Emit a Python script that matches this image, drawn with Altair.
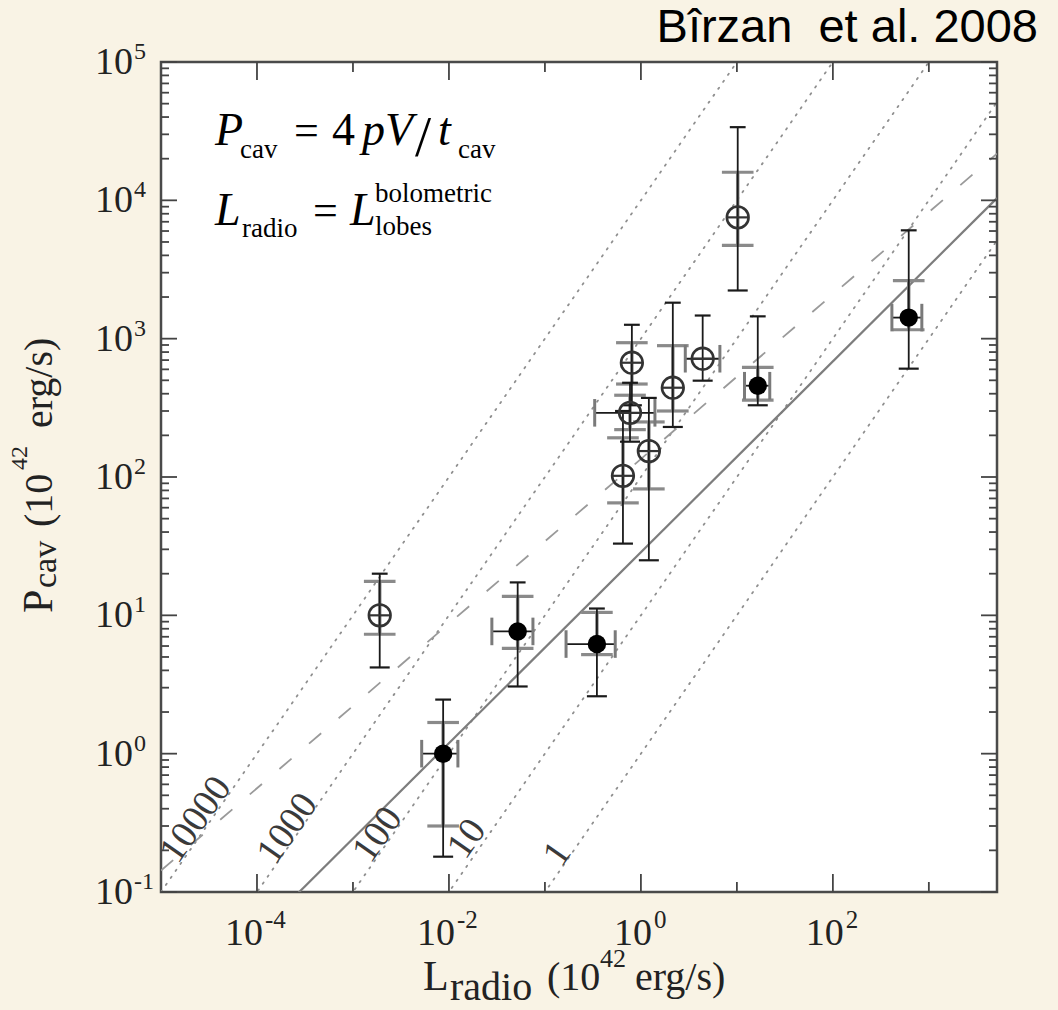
import math
import pandas as pd
import altair as alt

# ---------------------------------------------------------------
# Cavity power vs. radio luminosity (log-log)
# ---------------------------------------------------------------
X_MIN, X_MAX = 1e-5, 10 ** 3.71
Y_MIN, Y_MAX = 1e-1, 1e5
W, H = 836, 830

SERIF = "Liberation Serif, Times New Roman, serif"
SANS = "Liberation Sans, Arial, Helvetica, sans-serif"

# filled symbols
fill_L = [0.0087, 0.052, 0.348, 16.5, 617]
fill_P = [1.0, 7.65, 6.2, 457, 1420]
fill_P_lo = [0.18, 3.06, 2.6, 330, 607]        # black bars
fill_P_hi = [2.46, 17.3, 11.2, 1450, 6070]
fill_P_lo2 = [0.30, 5.77, 5.2, 360, 1160]      # grey bars
fill_P_hi2 = [1.68, 13.7, 10.5, 620, 2630]
fill_L_lo = [0.0052, 0.028, 0.166, 12.0, 412]
fill_L_hi = [0.0124, 0.075, 0.54, 22.0, 845]

# open symbols
open_L = [0.0019, 0.65, 0.77, 0.805, 1.21, 2.15, 4.4, 10.2]
open_P = [10.0, 102, 291, 670, 154, 442, 716, 7530]
open_P_lo = [4.2, 33, 180, 330, 25, 230, 497, 2230]
open_P_hi = [20, 300, 480, 1260, 373, 1820, 1470, 33800]
open_P_lo2 = [7.3, 65, 220, 470, 82, 300, None, 4720]
open_P_hi2 = [17.6, 192, 390, 935, 250, 890, None, 15960]
open_L_lo = [None, None, 0.33, None, None, None, 2.9, None]
open_L_hi = [None, None, 1.4, None, None, None, 6.65, None]

# constant P_cav / L_radio ratios (dotted) and their labels
ratios = [1, 10, 100, 1000, 10000]
ratio_text = ["1", "10", "100", "1000", "10000"]
ratio_label_L = [0.136, 1.55e-2, 1.82e-3, 2.10e-4, 2.32e-5]
ratio_label_P = [0.188, 0.242, 0.259, 0.286, 0.333]

# power-law fits: log P = a + b log L
solid_fit = (1.456, 0.69)
dashed_fit = (2.13, 0.595)

# axis decorations
x_tick_exp = [-4, -3, -2, -1, 0, 1, 2, 3]
x_label_exp = [-4, -2, 0, 2]
y_tick_exp = [-1, 0, 1, 2, 3, 4, 5]

xs = alt.Scale(type="log", domain=[X_MIN, X_MAX], nice=False, zero=False)
ys = alt.Scale(type="log", domain=[Y_MIN, Y_MAX], nice=False, zero=False)


def X(f):
    return alt.X(f, type="quantitative", scale=xs, axis=None)


def Y(f):
    return alt.Y(f, type="quantitative", scale=ys, axis=None)


# ---------------- reference lines ----------------
ratio_df = pd.DataFrame(
    [{"k": k, "L": L, "P": k * L} for k in ratios for L in (X_MIN, X_MAX)]
)
dotted = alt.Chart(ratio_df).mark_line(
    strokeDash=[1.5, 7], strokeCap="round", color="#8f8f8f", strokeWidth=1.8, clip=True
).encode(x=X("L"), y=Y("P"), detail="k:N")


def fit_df(a, b):
    return pd.DataFrame(
        [{"L": L, "P": 10 ** (a + b * math.log10(L))} for L in (X_MIN, X_MAX)]
    )


dashed = alt.Chart(fit_df(*dashed_fit)).mark_line(
    strokeDash=[16, 23], color="#9a9a9a", strokeWidth=1.8, clip=True
).encode(x=X("L"), y=Y("P"))

solid = alt.Chart(fit_df(*solid_fit)).mark_line(
    color="#7d7d7d", strokeWidth=2.2, clip=True
).encode(x=X("L"), y=Y("P"))

ratio_lab_df = pd.DataFrame({"L": ratio_label_L, "P": ratio_label_P, "t": ratio_text})
ratio_labels = alt.Chart(ratio_lab_df).mark_text(
    font=SERIF, fontSize=38, color="#3a3a3a", angle=305, align="center", baseline="middle"
).encode(x=X("L"), y=Y("P"), text="t:N")

# ---------------- data points ----------------
pts = pd.concat([
    pd.DataFrame({"L": fill_L, "P": fill_P, "lo": fill_P_lo, "hi": fill_P_hi,
                  "lo2": fill_P_lo2, "hi2": fill_P_hi2, "xl": fill_L_lo, "xh": fill_L_hi,
                  "kind": "filled"}),
    pd.DataFrame({"L": open_L, "P": open_P, "lo": open_P_lo, "hi": open_P_hi,
                  "lo2": open_P_lo2, "hi2": open_P_hi2, "xl": open_L_lo, "xh": open_L_hi,
                  "kind": "open"}),
], ignore_index=True)

inner = pts.dropna(subset=["lo2", "hi2"])
xerr = pts.dropna(subset=["xl", "xh"])
HBAR = "M-1,0L1,0"
VBAR = "M0,-1L0,1"

grey_bar = alt.Chart(inner).mark_rule(color="#8a8a8a", strokeWidth=3.5).encode(
    x=X("L"), y=Y("lo2"), y2="hi2")
grey_cap_lo = alt.Chart(inner).mark_point(shape=HBAR, size=1000, stroke="#8a8a8a",
                                          strokeWidth=3.2, opacity=1).encode(x=X("L"), y=Y("lo2"))
grey_cap_hi = alt.Chart(inner).mark_point(shape=HBAR, size=1000, stroke="#8a8a8a",
                                          strokeWidth=3.2, opacity=1).encode(x=X("L"), y=Y("hi2"))

black_bar = alt.Chart(pts).mark_rule(color="#1a1a1a", strokeWidth=1.8).encode(
    x=X("L"), y=Y("lo"), y2="hi")
black_cap_lo = alt.Chart(pts).mark_point(shape=HBAR, size=400, stroke="#1a1a1a",
                                         strokeWidth=2.2, opacity=1).encode(x=X("L"), y=Y("lo"))
black_cap_hi = alt.Chart(pts).mark_point(shape=HBAR, size=250, stroke="#1a1a1a",
                                         strokeWidth=2.2, opacity=1).encode(x=X("L"), y=Y("hi"))

x_bar = alt.Chart(xerr).mark_rule(color="#1a1a1a", strokeWidth=1.8).encode(
    x=X("xl"), x2="xh", y=Y("P"))
x_cap_lo = alt.Chart(xerr).mark_point(shape=VBAR, size=760, stroke="#7a7a7a",
                                      strokeWidth=3, opacity=1).encode(x=X("xl"), y=Y("P"))
x_cap_hi = alt.Chart(xerr).mark_point(shape=VBAR, size=760, stroke="#7a7a7a",
                                      strokeWidth=3, opacity=1).encode(x=X("xh"), y=Y("P"))

open_df = pts[pts.kind == "open"]
fill_df = pts[pts.kind == "filled"]
open_ring = alt.Chart(open_df).mark_point(shape="circle", filled=False, size=470,
                                          stroke="#333333", strokeWidth=2.6, opacity=1).encode(
    x=X("L"), y=Y("P"))
open_bar = alt.Chart(open_df).mark_point(shape=HBAR, size=470, stroke="#333333",
                                         strokeWidth=2.2, opacity=1).encode(x=X("L"), y=Y("P"))
filled = alt.Chart(fill_df).mark_circle(size=340, color="black", opacity=1).encode(
    x=X("L"), y=Y("P"))

# ---------------- inward ticks ----------------
TICK = "#444444"


def xticks(vals, length):
    d = pd.DataFrame({"v": vals})
    bottom = alt.Chart(d).mark_rule(color=TICK, strokeWidth=1.8).encode(
        x=X("v"), y=alt.value(H), y2=alt.value(H - length))
    top = alt.Chart(d).mark_rule(color=TICK, strokeWidth=1.8).encode(
        x=X("v"), y=alt.value(0), y2=alt.value(length))
    return [bottom, top]


def yticks(vals, length):
    d = pd.DataFrame({"v": vals})
    left = alt.Chart(d).mark_rule(color=TICK, strokeWidth=1.8).encode(
        y=Y("v"), x=alt.value(0), x2=alt.value(length))
    right = alt.Chart(d).mark_rule(color=TICK, strokeWidth=1.8).encode(
        y=Y("v"), x=alt.value(W), x2=alt.value(W - length))
    return [left, right]


x_major = [10.0 ** e for e in x_label_exp]
x_minor = [10.0 ** e for e in x_tick_exp if e not in x_label_exp]
y_major = [10.0 ** e for e in y_tick_exp]
y_minor = [m * 10.0 ** e for e in y_tick_exp[:-1] for m in range(2, 10)]

ticks = (xticks(x_major, 18) + xticks(x_minor, 10)
         + yticks(y_major, 16) + yticks(y_minor, 8))

# ---------------- tick labels ----------------
xl_df = pd.DataFrame({"v": x_major, "e": [str(e) for e in x_label_exp],
                      "neg": [e < 0 for e in x_label_exp]})
xlab = []
for neg, shift in ((True, 6), (False, 11)):
    sub = xl_df[xl_df.neg == neg]
    xlab.append(alt.Chart(sub).mark_text(text="10", font=SERIF, fontSize=38, align="right",
                                         baseline="alphabetic", dx=shift, color="#222").encode(
        x=X("v"), y=alt.value(H + 53)))
    xlab.append(alt.Chart(sub).mark_text(font=SERIF, fontSize=25, align="left",
                                         baseline="alphabetic", dx=shift + 2, color="#222").encode(
        x=X("v"), y=alt.value(H + 36), text="e:N"))

yl_df = pd.DataFrame({"v": y_major, "e": [str(e) for e in y_tick_exp]})
ylab = [
    alt.Chart(yl_df).mark_text(text="10", font=SERIF, fontSize=38, align="right",
                               baseline="alphabetic", dy=12, color="#222").encode(
        y=Y("v"), x=alt.value(-28)),
    alt.Chart(yl_df).mark_text(font=SERIF, fontSize=24, align="left",
                               baseline="alphabetic", dy=-3, color="#222").encode(
        y=Y("v"), x=alt.value(-27), text="e:N"),
]

# ---------------- free text ----------------
one = pd.DataFrame({"_": [0]})


def txt(s, x, y, size, italic=False, align="left", angle=0, font=SERIF, color="black"):
    kw = dict(text=s, align=align, baseline="alphabetic", font=font, fontSize=size, color=color)
    if italic:
        kw["fontStyle"] = "italic"
    if angle:
        kw["angle"] = angle
    return alt.Chart(one).mark_text(**kw).encode(x=alt.value(x), y=alt.value(y))


texts = [
    # header
    txt("B\u00eerzan\u00a0 et al. 2008", 877, -20, 47, align="right", font=SANS),
    # x title
    txt("L", 262, 928, 42, color="#222"),
    txt("radio", 289, 938, 40, color="#222"),
    txt("(10", 386, 928, 40, color="#222"),
    txt("42", 439, 905, 26, color="#222"),
    txt("erg/s)", 474, 928, 40, color="#222"),
    # y title
    txt("P", -109, 551, 42, angle=270, color="#222"),
    txt("cav", -105, 526, 34, angle=270, color="#222"),
    txt("(10", -109, 465, 40, angle=270, color="#222"),
    txt("42", -134, 408, 24, angle=270, color="#222"),
    txt("erg/s)", -109, 366, 40, angle=270, color="#222"),
    # definitions
    txt("P", 54, 83, 46, italic=True),
    txt("cav", 79, 96, 27),
    txt("=", 133, 83, 44),
    txt("4", 171, 83, 46),
    txt("pV", 201, 83, 46, italic=True),
    txt("/", 254, 94, 58),
    txt("t", 277, 83, 46, italic=True),
    txt("cav", 297, 96, 27),
    txt("L", 54, 163, 46, italic=True),
    txt("radio", 81, 175, 27),
    txt("=", 152, 163, 44),
    txt("L", 189, 163, 46, italic=True),
    txt("bolometric", 214, 140, 27),
    txt("lobes", 214, 173, 27),
]

chart = alt.layer(
    dotted, dashed, solid, ratio_labels,
    grey_bar, grey_cap_lo, grey_cap_hi,
    black_bar, black_cap_lo, black_cap_hi,
    x_bar, x_cap_lo, x_cap_hi,
    open_ring, open_bar, filled,
    *ticks, *xlab, *ylab, *texts,
).properties(
    width=W, height=H,
    background="#F9F3E5",
    padding={"left": 161, "top": 62, "right": 61, "bottom": 118},
    autosize=alt.AutoSizeParams(type="none"),
).configure_view(fill="white", stroke="#4a4a4a", strokeWidth=2.5)

chart.save("out.html", embed_options={"renderer": "svg", "actions": False})
